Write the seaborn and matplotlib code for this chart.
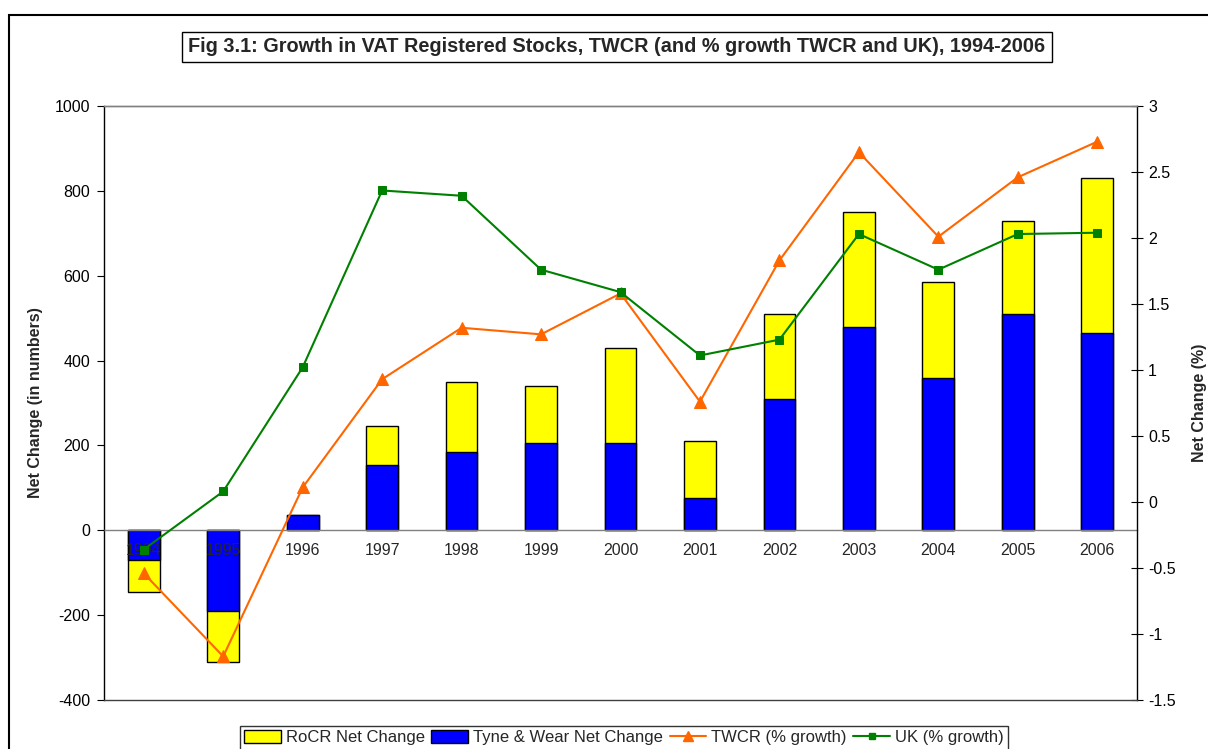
import numpy as np
import pandas as pd
import matplotlib
matplotlib.use("Agg")
import matplotlib.pyplot as plt
import matplotlib.patches as mpatches
from matplotlib.lines import Line2D
from matplotlib.ticker import FixedLocator
import seaborn as sns

# data
years = ["1994", "1995", "1996", "1997", "1998", "1999", "2000",
         "2001", "2002", "2003", "2004", "2005", "2006"]
tyne_wear = [-70, -190, 35, 155, 185, 205, 205, 75, 310, 480, 360, 510, 465]
rocr = [-75, -120, 0, 90, 165, 135, 225, 135, 200, 270, 225, 220, 365]
twcr_pct = [-0.54, -1.17, 0.11, 0.93, 1.32, 1.27, 1.58, 0.76, 1.83, 2.65, 2.01, 2.46, 2.73]
uk_pct = [-0.36, 0.08, 1.02, 2.36, 2.32, 1.76, 1.59, 1.11, 1.23, 2.03, 1.76, 2.03, 2.04]

df = pd.DataFrame({"Year": years, "TyneWear": tyne_wear, "RoCR": rocr,
                   "TWCR": twcr_pct, "UK": uk_pct})
df["Total"] = df["TyneWear"] + df["RoCR"]

sns.set_style("white")
plt.rcParams["font.family"] = ["Liberation Sans", "DejaVu Sans"]
plt.rcParams["axes.unicode_minus"] = False

yellow = "#FFFF00"
blue = "#0000FF"
orange = "#FF6600"
green = "#008000"

fig = plt.figure(figsize=(12.08, 7.49), dpi=100)
ax = fig.add_axes([104 / 1208, 1 - 700 / 749, (1137 - 104) / 1208, (700 - 106) / 749])

# stacked bars: yellow total, blue part on top of it
sns.barplot(data=df, x="Year", y="Total", color=yellow, saturation=1,
            edgecolor="black", linewidth=1, width=0.4, ax=ax)
sns.barplot(data=df, x="Year", y="TyneWear", color=blue, saturation=1,
            edgecolor="black", linewidth=1, width=0.4, ax=ax)
ax.set_axisbelow(False)

ax.set_xlim(-0.5, 12.5)
ax.set_ylim(-400, 1000)
ax.set_yticks(range(-400, 1001, 200))
ax.set_xlabel("")
ax.set_ylabel("Net Change (in numbers)", fontsize=11.5, fontweight="bold", labelpad=8)
ax.tick_params(axis="y", direction="out", length=5, labelsize=11.5, colors="black", pad=5)
ax.tick_params(axis="x", which="major", length=0, labelsize=11.5, pad=9)
ax.xaxis.set_minor_locator(FixedLocator(np.arange(-0.5, 13, 1)))
ax.tick_params(axis="x", which="minor", direction="inout", length=8, width=1, color="black")

ax.spines["bottom"].set_position(("data", 0))
ax.spines["bottom"].set_color("#808080")
ax.spines["top"].set_color("#808080")
ax.spines["right"].set_visible(False)
ax.spines["left"].set_color("black")
for s in ax.spines.values():
    s.set_linewidth(1)

# secondary axis with the % growth lines
ax2 = ax.twinx()
sns.lineplot(data=df, x="Year", y="TWCR", color=orange, marker="^", markersize=8,
             markeredgecolor=orange, linewidth=1.5, sort=False, legend=False, ax=ax2)
sns.lineplot(data=df, x="Year", y="UK", color=green, marker="s", markersize=6,
             markeredgecolor=green, linewidth=1.5, sort=False, legend=False, ax=ax2)
ax2.set_xlim(-0.5, 12.5)
ax2.set_ylim(-1.5, 3)
ax2.set_yticks(np.arange(-1.5, 3.01, 0.5))
ax2.set_yticklabels(["-1.5", "-1", "-0.5", "0", "0.5", "1", "1.5", "2", "2.5", "3"])
ax2.set_ylabel("Net Change (%)", fontsize=11.5, fontweight="bold", labelpad=12)
ax2.tick_params(axis="y", direction="inout", length=8, labelsize=11.5, colors="black", pad=4)
ax2.spines["left"].set_visible(False)
ax2.spines["top"].set_color("#808080")
ax2.spines["bottom"].set_color("#404040")
ax2.spines["right"].set_color("black")
for s in ax2.spines.values():
    s.set_linewidth(1)

# title in a box
fig.text(617 / 1208, 1 - 47 / 749,
         "Fig 3.1: Growth in VAT Registered Stocks, TWCR (and % growth TWCR and UK), 1994-2006",
         ha="center", va="center", fontsize=14.3, fontweight="bold",
         bbox=dict(boxstyle="square,pad=0.3", facecolor="white", edgecolor="black", linewidth=1))

# legend
handles = [
    mpatches.Patch(facecolor=yellow, edgecolor="black", label="RoCR Net Change"),
    mpatches.Patch(facecolor=blue, edgecolor="black", label="Tyne & Wear Net Change"),
    Line2D([], [], color=orange, marker="^", markersize=7, label="TWCR (% growth)"),
    Line2D([], [], color=green, marker="s", markersize=5, label="UK (% growth)"),
]
leg = fig.legend(handles=handles, loc="upper center", bbox_to_anchor=(624 / 1208, 1 - 726 / 749),
                 ncol=4, fontsize=12, frameon=True, fancybox=False, edgecolor="black",
                 handlelength=2.2, handleheight=0.8, handletextpad=0.3, columnspacing=0.4,
                 borderpad=0.25, borderaxespad=0)
leg.get_frame().set_linewidth(1)

# outer chart border
fig.patches.append(mpatches.Rectangle((9 / 1208, -0.1), 1.2, 1.1 - 15 / 749,
                                      transform=fig.transFigure, fill=False,
                                      edgecolor="black", linewidth=1.5))

fig.savefig("out.png", dpi=100)
